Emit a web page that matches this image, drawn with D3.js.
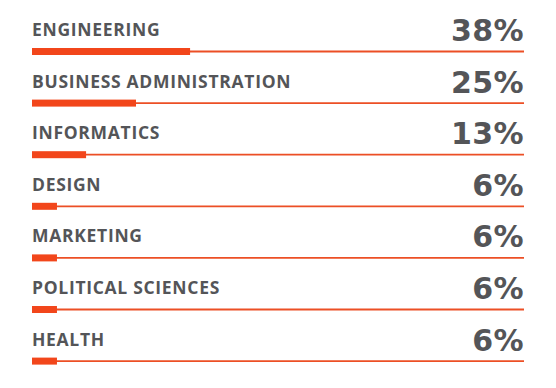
<!DOCTYPE html>
<html>
<head>
<meta charset="utf-8">
<script src="https://cdn.jsdelivr.net/npm/d3@7"></script>
<style>
  body { margin: 0; background: #fff; }
  svg text { font-weight: 700; fill: #545558; }
  .label { font-family: "Open Sans", sans-serif; font-size: 17.5px; letter-spacing: 0.7px; }
  .value { font-family: "DejaVu Sans", sans-serif; font-size: 30px; letter-spacing: 0.4px; }
</style>
</head>
<body>
<div id="chart"></div>
<script>
// fields of study and their share
var fields = ['ENGINEERING', 'BUSINESS ADMINISTRATION', 'INFORMATICS', 'DESIGN',
              'MARKETING', 'POLITICAL SCIENCES', 'HEALTH'];
var shares = [38, 25, 13, 6, 6, 6, 6];

var width = 556,
    height = 388,
    margin = {top: 0, right: 32, left: 32},
    rowStep = 51.6,
    firstLine = 51.5,
    orange = '#f2461b';

var svg = d3.select('#chart').append('svg')
    .attr('width', width)
    .attr('height', height);

var x = d3.scaleLinear()
    .domain([0, 100])
    .range([margin.left, margin.left + 416]);

var y = d3.scalePoint()
    .domain(fields)
    .range([firstLine, firstLine + rowStep * (fields.length - 1)]);

var rows = svg.selectAll('.row')
    .data(fields)
    .enter().append('g')
    .attr('class', 'row')
    .attr('transform', function(d) { return 'translate(0,' + y(d) + ')'; });

// thin track line
rows.append('line')
    .attr('x1', x(0))
    .attr('x2', width - margin.right)
    .attr('y1', 0)
    .attr('y2', 0)
    .attr('stroke', '#ec4f25')
    .attr('stroke-width', 1.8);

// thick bar
rows.append('rect')
    .attr('x', x(0))
    .attr('y', -3.5)
    .attr('height', 7)
    .attr('width', function(d, i) { return x(shares[i]) - x(0); })
    .attr('fill', orange);

rows.append('text')
    .attr('class', 'label')
    .attr('x', x(0))
    .attr('y', -15.5)
    .text(function(d) { return d; });

rows.append('text')
    .attr('class', 'value')
    .attr('x', width - margin.right)
    .attr('y', -10.5)
    .attr('text-anchor', 'end')
    .text(function(d, i) { return shares[i] + '%'; });
</script>
</body>
</html>
